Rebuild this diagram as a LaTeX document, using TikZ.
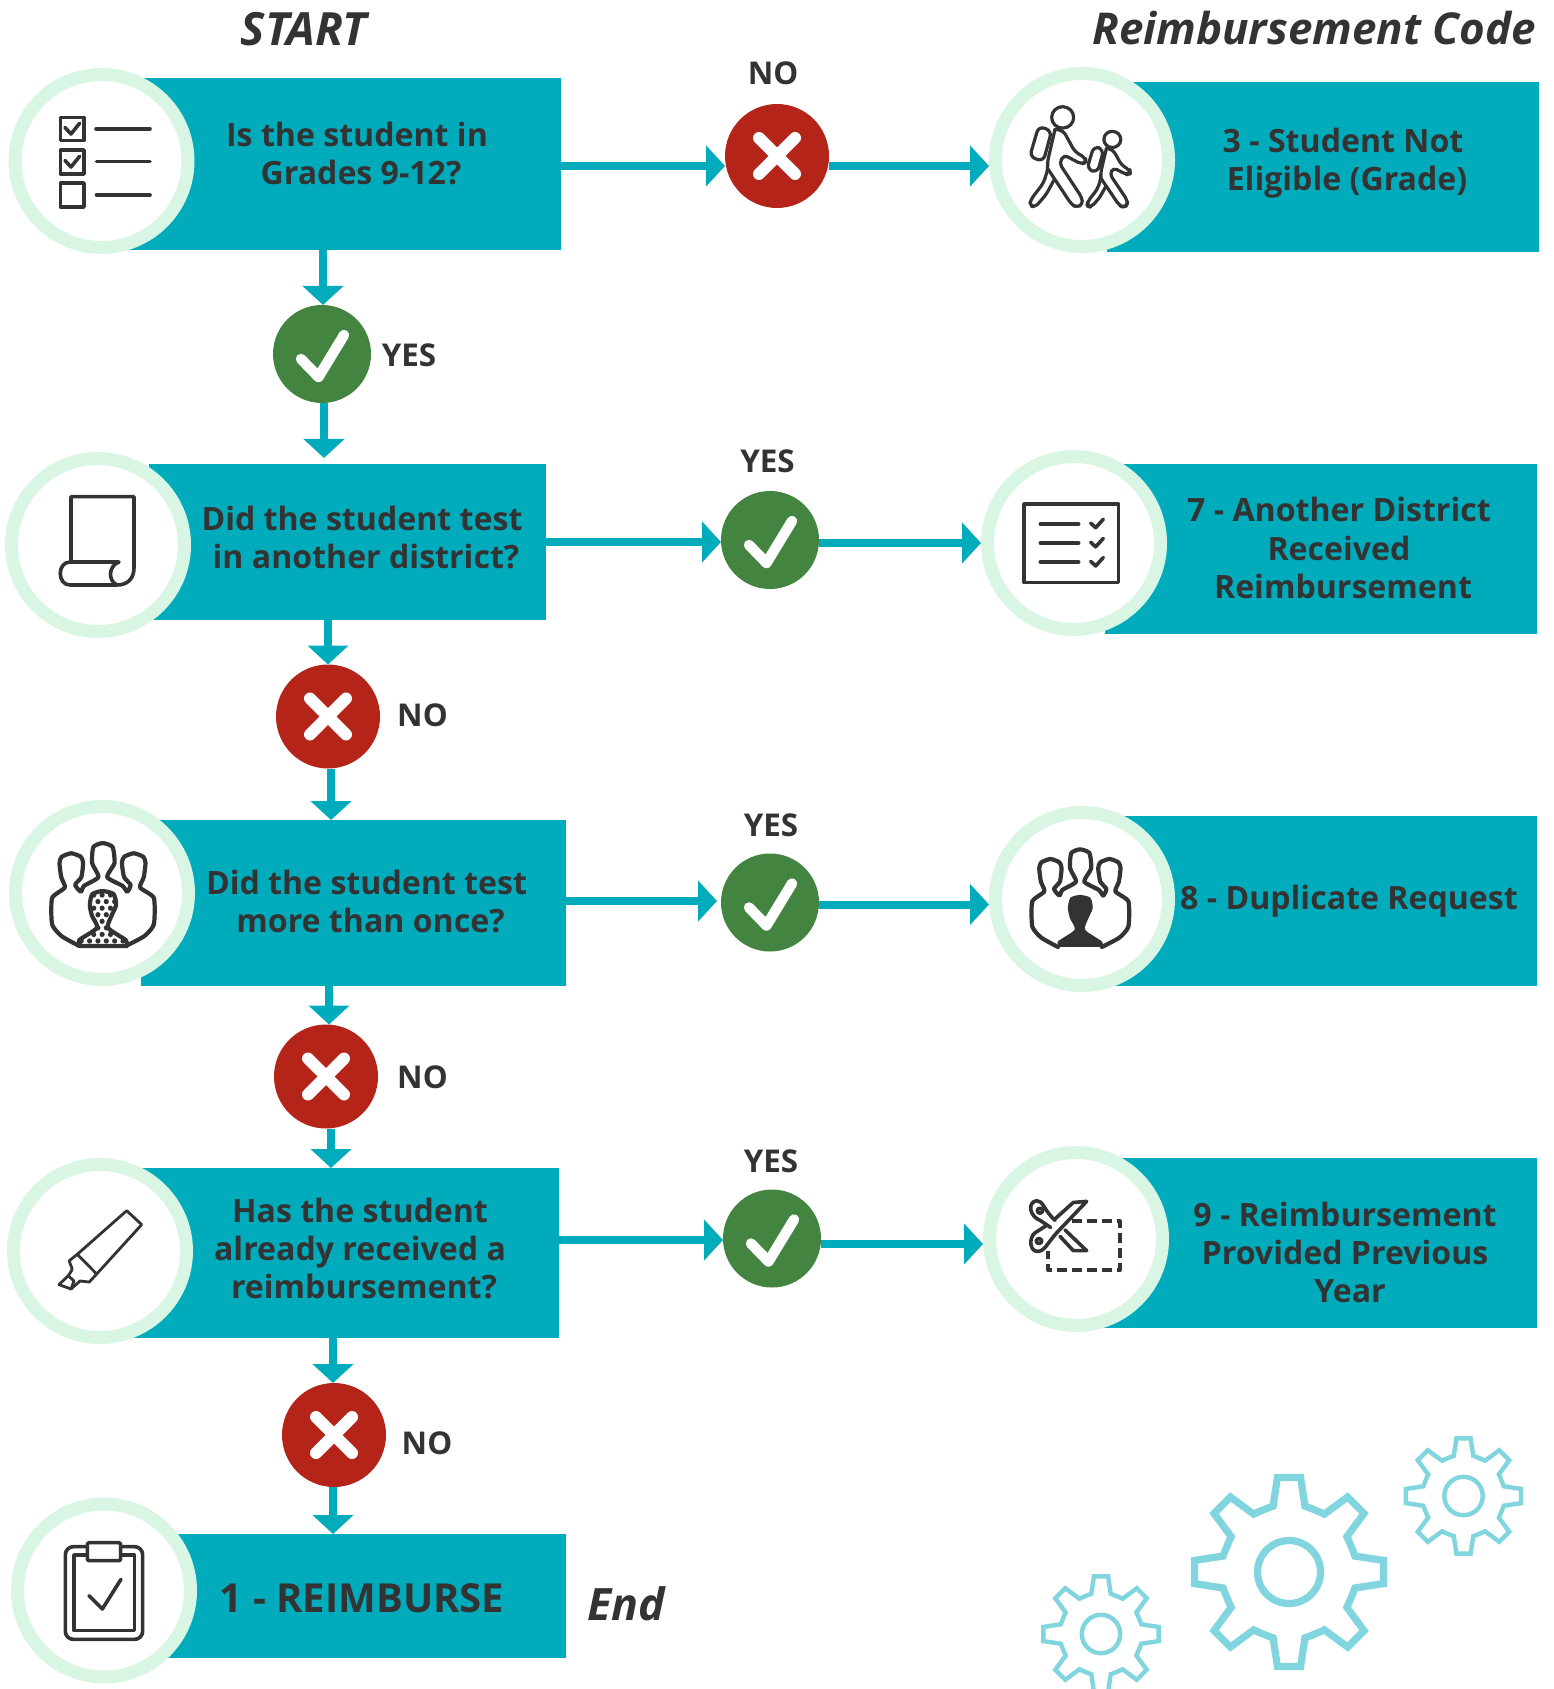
\documentclass[tikz,border=0pt]{standalone}
\usepackage{fontspec}
\setmainfont{Open Sans}
\usetikzlibrary{arrows.meta,fit,backgrounds}
\definecolor{tealbox}{HTML}{00ACBC}
\definecolor{ringc}{HTML}{D8F6E3}
\definecolor{redc}{HTML}{B52419}
\definecolor{greenc}{HTML}{438540}
\definecolor{ink}{HTML}{333333}
\definecolor{gearc}{HTML}{80D5DF}
\tikzset{
  boxst/.style={fill=tealbox,inner sep=0pt,outer sep=0pt},
  ringst/.style={circle,draw=ringc,fill=white,line width=6.5pt,minimum size=86.5pt,inner sep=0pt},
  nost/.style={circle,fill=redc,minimum size=52pt,inner sep=0pt,outer sep=0pt},
  yesst/.style={circle,fill=greenc,minimum size=49pt,inner sep=0pt,outer sep=0pt},
  conn/.style={draw=tealbox,line width=4pt,-{Triangle[length=9.5pt,width=20pt]}},
  txt/.style={text=ink,font=\fontsize{16.05}{19.1}\selectfont\bfseries,align=center,inner sep=0pt},
  lab/.style={text=ink,font=\fontsize{15.7}{18}\selectfont\bfseries,inner sep=0pt},
  ttl/.style={text=ink,font=\fontsize{21.95}{26}\selectfont\bfseries\itshape,inner sep=0pt},
  icon/.style={draw=ink,line width=1.8pt,line join=round,line cap=round},
  gearln/.style={draw=gearc,line join=miter},
}
\newcommand\xmk[1]{\draw[white,line width=6pt,line cap=round] ([shift={(-18,-18)}]#1.center) -- ([shift={(18,18)}]#1.center) ([shift={(18,-18)}]#1.center) -- ([shift={(-18,18)}]#1.center);}
\newcommand\chkmk[1]{\draw[white,line width=5.2pt,line cap=round,line join=round] ([shift={(-21,5)}]#1.center) -- ([shift={(-3.5,23)}]#1.center) -- ([shift={(22,-19)}]#1.center);}
\newcommand\gearat[4]{%
  \begin{scope}[shift={(#1,#2)},scale=#3]
    \draw[gearln,line width=#4] (83:95.2)
      \foreach \a in {90,135,...,405}{
        -- (\a-7:95.2) -- (\a+7:95.2) -- (\a+13.6:67.8) -- (\a+18:67.4) -- (\a+22.5:67.2) -- (\a+27:67.4) -- (\a+31.4:67.8)
      } -- cycle;
    \draw[gearln,line width=#4] (0,0) circle [radius=31.5];
  \end{scope}}
\newcommand\walker{%
  \draw[icon,line width=1.6pt] (308,150) ellipse [x radius=33,y radius=28];
  \draw[icon,line width=1.6pt,rounded corners=2pt] (285,181) -- (310,185) -- (345,240) -- (377,256) -- (378,268) -- (364,272) -- (312,248) -- (298,270) -- (366,360) -- (368,378) -- (350,385) -- (335,378) -- (264,285);
  \draw[icon,line width=1.6pt,rounded corners=2pt] (285,181) -- (262,268) -- (264,285) -- (250,322) -- (212,365) -- (209,380) -- (225,385) -- (258,352) -- (283,312);
  \draw[icon,line width=1.6pt,rounded corners=3pt] (236,173) -- (275,185) -- (250,265) -- (209,253) -- cycle;
}
\newcommand\grouppath{%
  \draw[icon,line width=2.1pt] plot[smooth,tension=.35] coordinates {(78.3,946) (60,936) (50,924) (50,897) (63.3,886.4) (59.5,875.7) (57.7,861.4) (60,855) (70,851.4) (80,855) (82.3,861.4) (80.5,875.7) (74,883.6) (80,890.7) (83.3,884.6) (98.3,875.7) (91.7,861.4) (93,845) (102.7,841) (113,845) (115,861.4) (107.3,875.7) (123.3,884.6) (128.3,890.7) (131.7,883.6) (125,875.7) (122.7,861.4) (125,855) (135,851.4) (145,855) (147.3,861.4) (145.5,875.7) (141.7,886.4) (156,897) (156,924) (146,936) (126.7,946)};
}
\newcommand\fgpath{plot[smooth,tension=.4] coordinates {(80,946) (78.3,940) (96.7,927.5) (91.5,915) (89.3,904) (92,893) (102.7,890) (114,893) (116.7,904) (112,915) (108.3,927.5) (126.7,940) (128.3,946)} -- cycle}
\begin{document}
\begin{tikzpicture}[x=0.5pt,y=-0.5pt]
\path[use as bounding box] (0,0) rectangle (1553,1689);
% teal boxes
\node[boxst,fit={(125,78)(561,250)}] (r1) {};
\node[boxst,fit={(149,464)(546,619.5)}] (r2) {};
\node[boxst,fit={(141,820)(566,986)}] (r3) {};
\node[boxst,fit={(125,1168)(559,1337.5)}] (r4) {};
\node[boxst,fit={(160,1534)(566,1658)}] (r5) {};
\node[boxst,fit={(1107,82)(1539,252)}] (q3) {};
\node[boxst,fit={(1105,464)(1537,634)}] (q7) {};
\node[boxst,fit={(1110,816)(1537,986)}] (q8) {};
\node[boxst,fit={(1100,1158)(1537,1327.5)}] (q9) {};
% rings
\node[ringst] (c1) at (101.5,161) {};
\node[ringst] (c2) at (98,545) {};
\node[ringst] (c3) at (102,893) {};
\node[ringst] (c4) at (100,1251) {};
\node[ringst] (c5) at (104,1590.5) {};
\node[ringst] (d3) at (1082,160) {};
\node[ringst] (d7) at (1074,543) {};
\node[ringst] (d8) at (1082,899) {};
\node[ringst] (d9) at (1076,1239) {};
% decision discs
\node[nost] (a1) at (777,156) {};
\node[yesst] (b1) at (322,354) {};
\node[yesst] (a2) at (770,540) {};
\node[nost] (b2) at (328,716.5) {};
\node[yesst] (a3) at (770,902.5) {};
\node[nost] (b3) at (326,1076.5) {};
\node[yesst] (a4) at (772,1238.5) {};
\node[nost] (b4) at (334,1435) {};
\xmk{a1}\xmk{b2}\xmk{b3}\xmk{b4}
\chkmk{b1}\chkmk{a2}\chkmk{a3}\chkmk{a4}
% level coordinates
\coordinate (h1) at (0,166);
\coordinate (h2a) at (0,542);
\coordinate (h2b) at (0,543);
\coordinate (h3a) at (0,901);
\coordinate (h3b) at (0,904.5);
\coordinate (h4a) at (0,1240);
\coordinate (h4b) at (0,1244);
\coordinate (v1a) at (323,0);
\coordinate (v1b) at (324,0);
\coordinate (v2a) at (328,0);
\coordinate (v2b) at (331,0);
\coordinate (v3a) at (329,0);
\coordinate (v3b) at (331,0);
\coordinate (v4a) at (333,0);
\begin{scope}[on background layer]
\fill[white] (0,0) rectangle (1553,1689);
\draw[conn] (r1.east |- h1) -- (a1.west |- h1);
\draw[conn] (a1.east |- h1) -- (d3.west |- h1);
\draw[conn] (r2.east |- h2a) -- (a2.west |- h2a);
\draw[conn] (a2.east |- h2b) -- (d7.west |- h2b);
\draw[conn,shorten >=2pt] (r3.east |- h3a) -- (a3.west |- h3a);
\draw[conn] (a3.east |- h3b) -- (d8.west |- h3b);
\draw[conn] (r4.east |- h4a) -- (a4.west |- h4a);
\draw[conn] (a4.east |- h4b) -- (d9.west |- h4b);
\draw[conn] (r1.south -| v1a) -- (b1.north -| v1a);
\draw[conn,shorten >=3pt] (b1.south -| v1b) -- (r2.north -| v1b);
\draw[conn] (r2.south -| v2a) -- (b2.north -| v2a);
\draw[conn] (b2.south -| v2b) -- (r3.north -| v2b);
\draw[conn] (r3.south -| v3a) -- (b3.north -| v3a);
\draw[conn] (b3.south -| v3b) -- (r4.north -| v3b);
\draw[conn] (r4.south -| v4a) -- (b4.north -| v4a);
\draw[conn] (b4.south -| v4a) -- (r5.north -| v4a);
\end{scope}
% titles
\node[ttl,font=\fontsize{22.9}{26}\selectfont\bfseries\itshape] (tstart) at (304,29) {START};
\node[ttl] (tcode) at (1314,28) {Reimbursement Code};
\node[ttl,font=\fontsize{22.3}{26}\selectfont\bfseries\itshape] (tend) at (626,1604) {End};
% box text
\node[txt] (t1) at (357,153.5) {Is the student in\\\hspace*{4pt}Grades 9-12?};
\node[txt] (t2) at (362,537.5) {Did the student test\\\hspace*{4pt}in another district?};
\node[txt] (t3) at (366.5,901.5) {Did the student test\\\hspace*{4pt}more than once?};
\node[txt] (t4) at (360,1248.5) {Has the student\\already received a\\\hspace*{4pt}reimbursement?};
\node[txt,font=\fontsize{20}{25}\selectfont\bfseries] (t5) at (362,1598) {1 - REIMBURSE};
\node[txt] (s3) at (1343,163) {3 - Student Not\\\hspace*{4pt}Eligible (Grade)};
\node[txt] (s7) at (1339,548) {7 - Another District\\Received\\\hspace*{4pt}Reimbursement};
\node[txt] (s8) at (1349,901.5) {8 - Duplicate Request};
\node[txt] (s9) at (1345,1252.5) {9 - Reimbursement\\Provided Previous\\\hspace*{5pt}Year};
% yes / no labels
\node[lab] (l1) at (773,73) {NO};
\node[lab] (l2) at (409,355) {YES};
\node[lab] (l3) at (767.5,461) {YES};
\node[lab] (l4) at (422.5,715) {NO};
\node[lab] (l5) at (771,825.5) {YES};
\node[lab] (l6) at (422.5,1077) {NO};
\node[lab] (l7) at (771,1161.5) {YES};
\node[lab] (l8) at (427,1443) {NO};
% icon: checklist
\draw[icon] (60.5,117.5) rectangle (84,140.5) (60.5,150) rectangle (84,174) (60.5,183) rectangle (84,207);
\draw[icon] (96,128.8) -- (150,128.8) (96.5,161.6) -- (150,161.6) (96.5,195) -- (150,195);
\draw[icon] (65,127.5) -- (71,134) -- (79.6,123.3) (65,160.5) -- (71,167) -- (79.6,156.3);
% icon: scroll
\draw[icon] (71,560) -- (71,496.6) -- (134,496.6) -- (134,568) .. controls (134,579) and (127,585) .. (117,585) -- (70,585) .. controls (57,585) and (57,562) .. (70,562) -- (119,562) .. controls (108,566) and (108,581) .. (117,585);
% icon: group with dotted figure
\begin{scope}[shift={(4.1,18.9)},xscale=.96,yscale=.98]
\grouppath
\begin{scope}
  \fill[white] \fgpath;
  \clip \fgpath;
  \foreach \r in {0,...,8}{\foreach \c in {0,...,6}{
    \fill[ink] ({76+8.7*\c+4.35*mod(\r,2)},{894+6.7*\r}) circle [radius=2.7];}}
\end{scope}
\draw[icon,line width=2.1pt] \fgpath;
\end{scope}
% icon: highlighter
\draw[icon,line width=1.4pt] (126.7,1210.7) -- (141.7,1224.6) -- (96.7,1274) -- (77.3,1254.3) -- cycle;
\draw[icon,line width=1.4pt] (77.3,1254.3) -- (69.3,1260.7) .. controls (70,1265) and (73,1268) .. (71.7,1270.4) -- (68.3,1275.7) -- (59,1284.6) -- (71,1289) -- (80,1281) -- (89.3,1282) -- (96.7,1274);
\draw[icon,line width=1.4pt] (68.3,1275.7) -- (74,1281) -- (71,1289);
% icon: clipboard
\begin{scope}[shift={(0,1480)},xscale=.3333,yscale=.3333]
\draw[icon,rounded corners=4pt] (196,200) rectangle (428,478);
\draw[icon] (222,225) rectangle (403,452);
\draw[icon,fill=white,rounded corners=1pt] (262,188) rectangle (362,242);
\draw[icon] (267,347) -- (307,387) -- (363,298);
\end{scope}
% icon: walkers
\begin{scope}[shift={(960,60)},xscale=.3333,yscale=.3827]
\walker
\begin{scope}[shift={(219.8,94.3)},xscale=.77,yscale=.755]
\walker
\end{scope}
\end{scope}
% icon: form with checks
\begin{scope}[shift={(960,60)},xscale=.3333,yscale=.3827]
\draw[icon] (192,1160) rectangle (475,1365);
\draw[icon] (241,1212) -- (356,1212) (241,1262) -- (356,1262) (241,1312) -- (356,1312);
\foreach \d in {0,50,100}{\draw[icon] (392,1210+\d) -- (407,1222+\d) -- (430,1200+\d);}
\end{scope}
% icon: group with solid figure
\begin{scope}[shift={(986.9,67.2)},xscale=.907,yscale=.93]
\grouppath
\fill[ink] \fgpath;
\end{scope}
% icon: scissors and dashed coupon
\begin{scope}[shift={(980,790)},xscale=.3333,yscale=.3571]
\draw[icon,line cap=butt,line width=2pt,dash pattern=on 5pt off 2.5pt] (275,1208) -- (420,1208) -- (420,1345) -- (205,1345) -- (205,1292);
\draw[icon,fill=white] (320,1152) -- (280,1155) -- (212,1212) -- (165,1240) .. controls (145,1255) and (150,1292) .. (172,1292) .. controls (195,1292) and (200,1270) .. (235,1235) -- cycle;
\draw[icon] (177,1263) ellipse [x radius=8,y radius=7];
\draw[icon,fill=white] (212,1225) -- (180,1205) .. controls (150,1195) and (140,1155) .. (170,1150) .. controls (190,1150) and (190,1175) .. (225,1205);
\draw[icon] (180,1178) ellipse [x radius=8,y radius=7];
\draw[icon] (240,1250) -- (280,1290) -- (320,1290) -- (255,1232);
\end{scope}
% gears
\gearat{1289}{1572}{1}{3.6pt}
\gearat{1463.5}{1496}{.61}{2.2pt}
\begin{scope}
\clip (1000,1500) rectangle (1553,1689);
\gearat{1101}{1634}{.61}{2.2pt}
\end{scope}
\end{tikzpicture}
\end{document}
